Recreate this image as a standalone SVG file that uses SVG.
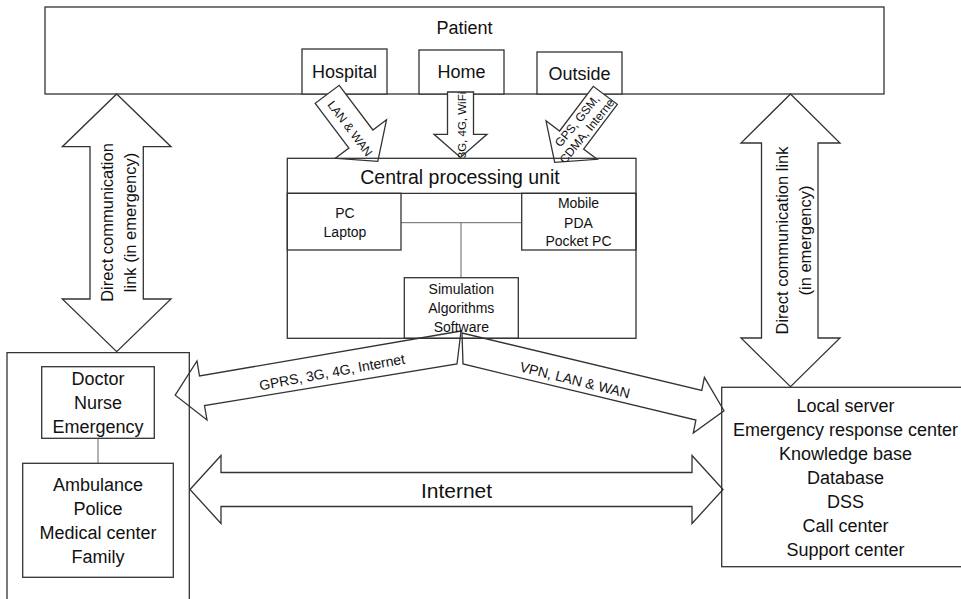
<svg xmlns="http://www.w3.org/2000/svg" width="961" height="599" viewBox="0 0 961 599">
<style>
.b{fill:#fff;stroke:#333;stroke-width:1.3}
.o{fill:none;stroke:#333;stroke-width:1.3}
.a{fill:#fff;stroke:#333;stroke-width:1.3;stroke-linejoin:miter}
.c{fill:none;stroke:#666;stroke-width:1}
text{font-family:"Liberation Sans",Arial,sans-serif;fill:#111;text-anchor:middle;dominant-baseline:central}
.t18{font-size:18px}
.t14{font-size:14px}
.t12{font-size:12px}
.t165{font-size:16.5px}
</style>
<defs>
<clipPath id="clipOut"><polygon points="593.3,86.3 559.6,131 546,120.8 554.7,162.4 597.2,159.3 583.6,149.1 617.3,104.3"/></clipPath>
</defs>
<rect x="0" y="0" width="961" height="599" fill="#fff"/>

<g id="patient">
<rect class="b" x="45" y="7" width="839" height="87"/>
<text class="t18" x="464.5" y="28">Patient</text>
</g>
<g id="hospital">
<rect class="b" x="302" y="49" width="85" height="45"/>
<text class="t18" x="344.5" y="72">Hospital</text>
</g>
<g id="home">
<rect class="b" x="419" y="50" width="85" height="44"/>
<text class="t18" x="461.5" y="72">Home</text>
</g>
<g id="outside">
<rect class="b" x="537" y="52" width="85" height="42"/>
<text class="t18" x="579.5" y="73.5">Outside</text>
</g>

<g id="connectors">
<!-- Hospital -> CPU -->
<polygon class="a" points="339.2,85.3 372.9,130 386.5,119.8 377.8,161.4 335.3,158.3 348.9,148.1 315.2,103.3"/>
<text class="t12" transform="translate(350,128.6) rotate(53)">LAN &amp; WAN</text>
<!-- Home -> CPU -->
<polygon class="a" points="447.5,92 473.5,92 473.5,134.3 487,134.3 460.5,157.5 434,134.3 447.5,134.3"/>
<text style="font-size:11.5px" transform="translate(461.5,125) rotate(-90)">3G, 4G, WiFi</text>
<!-- Outside -> CPU -->
<polygon class="a" points="593.3,86.3 559.6,131 546,120.8 554.7,162.4 597.2,159.3 583.6,149.1 617.3,104.3"/>
<g clip-path="url(#clipOut)">
<text class="t12" transform="translate(582.6,125.4) rotate(-51)"><tspan x="0" y="-7">GPS, GSM,</tspan><tspan x="0" y="7">CDMA, Internet</tspan></text>
</g>
<!-- Left direct link -->
<polygon class="a" points="116.7,94 171,146.7 143.3,146.7 143.3,299 171,299 116.7,351.7 62.3,299 90,299 90,146.7 62.3,146.7"/>
<text class="t165" transform="translate(118.5,222.5) rotate(-90)"><tspan x="0" y="-11.5">Direct communication</tspan><tspan x="0" y="11.5">link (in emergency)</tspan></text>
<!-- Right direct link -->
<polygon class="a" points="790.5,94 840,143 818,143 818,338 840,338 790.5,386.7 741,338 761.5,338 761.5,143 741,143"/>
<text class="t165" transform="translate(793.5,240.5) rotate(-90)"><tspan x="0" y="-11.5">Direct communication link</tspan><tspan x="0" y="11.5">(in emergency)</tspan></text>
<!-- CPU -> left (GPRS) -->
<polygon class="a" points="461,331 199.5,376 197,361 175.2,395.2 207,420 204.5,405.5 457,364"/>
<text class="t14" transform="translate(332,372) rotate(-10.5)">GPRS, 3G, 4G, Internet</text>
<!-- CPU -> right (VPN) -->
<polygon class="a" points="462,333 701.8,390.4 704.4,377.4 724,410.7 693.3,433 695.9,420 463,364"/>
<text class="t14" transform="translate(575,380) rotate(14)">VPN, LAN &amp; WAN</text>
<!-- Internet -->
<polygon class="a" points="190,489.5 221,455.5 221,472.5 692,472.5 692,455.5 723,489.5 692,523.5 692,506.5 221,506.5 221,523.5"/>
<text style="font-size:21px" x="456.5" y="490">Internet</text>
<!-- internal lines -->
<path class="c" d="M401,222.7 H521.7 M461,222.7 V277.7"/>
<path class="c" d="M98,438.3 V463.3"/>
</g>

<g id="cpu">
<rect class="o" x="287.3" y="158.3" width="348.7" height="180"/>
<line class="o" x1="287.3" y1="193.3" x2="636" y2="193.3"/>
<text style="font-size:19.5px" x="460" y="176.5">Central processing unit</text>
</g>
<g id="pc">
<rect class="o" x="287.3" y="193.3" width="113.7" height="56.7"/>
<text class="t14" x="345" y="213.3">PC</text>
<text class="t14" x="345" y="231.7">Laptop</text>
</g>
<g id="mobile">
<rect class="o" x="521.7" y="193.3" width="114.3" height="56.7"/>
<text class="t14" x="578.5" y="203.3">Mobile</text>
<text class="t14" x="578.5" y="222.5">PDA</text>
<text class="t14" x="578.5" y="241">Pocket PC</text>
</g>
<g id="simulation">
<rect class="o" x="404.3" y="277.7" width="114" height="60.6"/>
<text class="t14" x="461.3" y="289.3">Simulation</text>
<text class="t14" x="461.3" y="308.3">Algorithms</text>
<text class="t14" x="461.3" y="326.7">Software</text>
</g>

<g id="care-group">
<path class="o" d="M7,610 V352.7 H189.3 V610"/>
</g>
<g id="doctor">
<rect class="b" x="41.7" y="366.7" width="112.6" height="71.6"/>
<text class="t18" x="98" y="379">Doctor</text>
<text class="t18" x="98" y="403">Nurse</text>
<text class="t18" x="98" y="427">Emergency</text>
</g>
<g id="ambulance">
<rect class="b" x="22.7" y="463.3" width="150.6" height="114"/>
<text class="t18" x="98" y="485">Ambulance</text>
<text class="t18" x="98" y="509">Police</text>
<text class="t18" x="98" y="533">Medical center</text>
<text class="t18" x="98" y="557">Family</text>
</g>
<g id="server">
<rect class="o" x="721.7" y="387.3" width="250" height="179.4"/>
<text class="t18" x="845.5" y="406">Local server</text>
<text class="t18" x="845.5" y="430">Emergency response center</text>
<text class="t18" x="845.5" y="454">Knowledge base</text>
<text class="t18" x="845.5" y="478">Database</text>
<text class="t18" x="845.5" y="502">DSS</text>
<text class="t18" x="845.5" y="526">Call center</text>
<text class="t18" x="845.5" y="550">Support center</text>
</g>
</svg>
